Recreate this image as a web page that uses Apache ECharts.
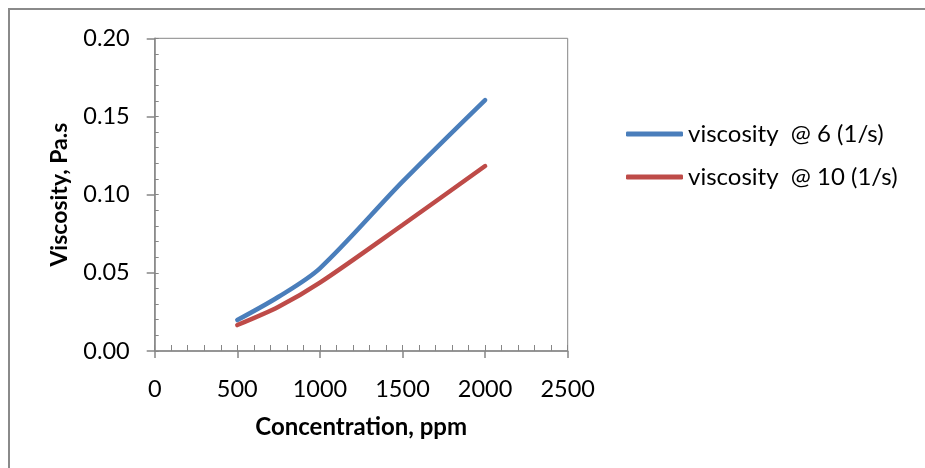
<!DOCTYPE html>
<html>
<head>
<meta charset="utf-8">
<script src="https://cdn.jsdelivr.net/npm/echarts@6/dist/echarts.min.js"></script>
<style>
html,body{margin:0;padding:0;background:#fff;}
#chart{width:925px;height:468px;}
</style>
</head>
<body>
<div id="chart"></div>
<script>
const concentration = [500, 750, 1000, 1500, 2000];
const visc6 = [0.0198, 0.0347, 0.0529, 0.1083, 0.1605];
const visc10 = [0.0166, 0.0283, 0.0437, 0.0806, 0.1183];
const seriesNames = ['viscosity  @ 6 (1/s)', 'viscosity  @ 10 (1/s)'];
const xTitle = 'Concentration, ppm';
const yTitle = 'Viscosity, Pa.s';

const FONT = 'Lato';
const axisColor = '#868686';
const chart = echarts.init(document.getElementById('chart'), null, {renderer: 'canvas'});

function pairs(xs, ys) { return xs.map((x, i) => [x, ys[i]]); }

chart.setOption({
  animation: false,
  backgroundColor: '#fff',
  textStyle: {fontFamily: FONT},
  graphic: [{
    type: 'rect', silent: true, z: -1,
    shape: {x: 9, y: 9, width: 1000, height: 600},
    style: {fill: 'none', stroke: '#8a8a8a', lineWidth: 2}
  }],
  grid: {left: 154.7, right: 357.3, top: 38.3, bottom: 117, show: true, borderColor: axisColor, borderWidth: 1, backgroundColor: 'transparent'},
  legend: {
    orient: 'vertical', left: 621, top: 115,
    itemWidth: 57, itemHeight: 5, itemGap: 15, icon: 'roundRect',
    textStyle: {fontFamily: FONT, fontSize: 24, color: '#000', lineHeight: 28},
    data: seriesNames
  },
  xAxis: [{
    type: 'value', min: 0, max: 2500, interval: 500, position: 'bottom',
    axisLine: {show: true, onZero: false, lineStyle: {color: axisColor, width: 1.5}},
    axisTick: {show: true, inside: false, length: 7, lineStyle: {color: axisColor, width: 1.5}},
    axisLabel: {fontFamily: FONT, fontSize: 23.5, color: '#000', margin: 26, formatter: v => String(v)},
    splitLine: {show: false},
    name: xTitle, nameLocation: 'middle', nameGap: 64,
    nameTextStyle: {fontFamily: FONT, fontSize: 24, fontWeight: 'bold', color: '#000'}
  }, {
    type: 'value', min: 0, max: 2500, interval: 100, position: 'bottom', offset: 0,
    axisLine: {show: false},
    axisTick: {show: true, inside: true, length: 6, lineStyle: {color: axisColor, width: 1}},
    axisLabel: {show: false}, splitLine: {show: false}
  }],
  yAxis: [{
    type: 'value', min: 0, max: 0.2, interval: 0.05, position: 'left',
    axisLine: {show: true, onZero: false, lineStyle: {color: axisColor, width: 1.5}},
    axisTick: {show: true, inside: false, length: 8, lineStyle: {color: axisColor, width: 1.5}},
    axisLabel: {fontFamily: FONT, fontSize: 23.5, color: '#000', margin: 25, formatter: v => v.toFixed(2)},
    splitLine: {show: false},
    name: yTitle, nameLocation: 'middle', nameGap: 84, nameRotate: 90,
    nameTextStyle: {fontFamily: FONT, fontSize: 23, fontWeight: 'bold', color: '#000'}
  }, {
    type: 'value', min: 0, max: 0.2, interval: 0.01, position: 'left', offset: 0,
    axisLine: {show: false},
    axisTick: {show: true, inside: true, length: 4, lineStyle: {color: axisColor, width: 1}},
    axisLabel: {show: false}, splitLine: {show: false}
  }],
  series: [{
    name: seriesNames[0], type: 'line', smooth: 0.3, showSymbol: false, symbol: 'none',
    xAxisIndex: 0, yAxisIndex: 0,
    lineStyle: {color: '#4A7EBB', width: 4.5, cap: 'round'}, itemStyle: {color: '#4A7EBB'},
    data: pairs(concentration, visc6)
  }, {
    name: seriesNames[1], type: 'line', smooth: 0.3, showSymbol: false, symbol: 'none',
    xAxisIndex: 0, yAxisIndex: 0,
    lineStyle: {color: '#BE4B48', width: 4.5, cap: 'round'}, itemStyle: {color: '#BE4B48'},
    data: pairs(concentration, visc10)
  }]
});
</script>
</body>
</html>
